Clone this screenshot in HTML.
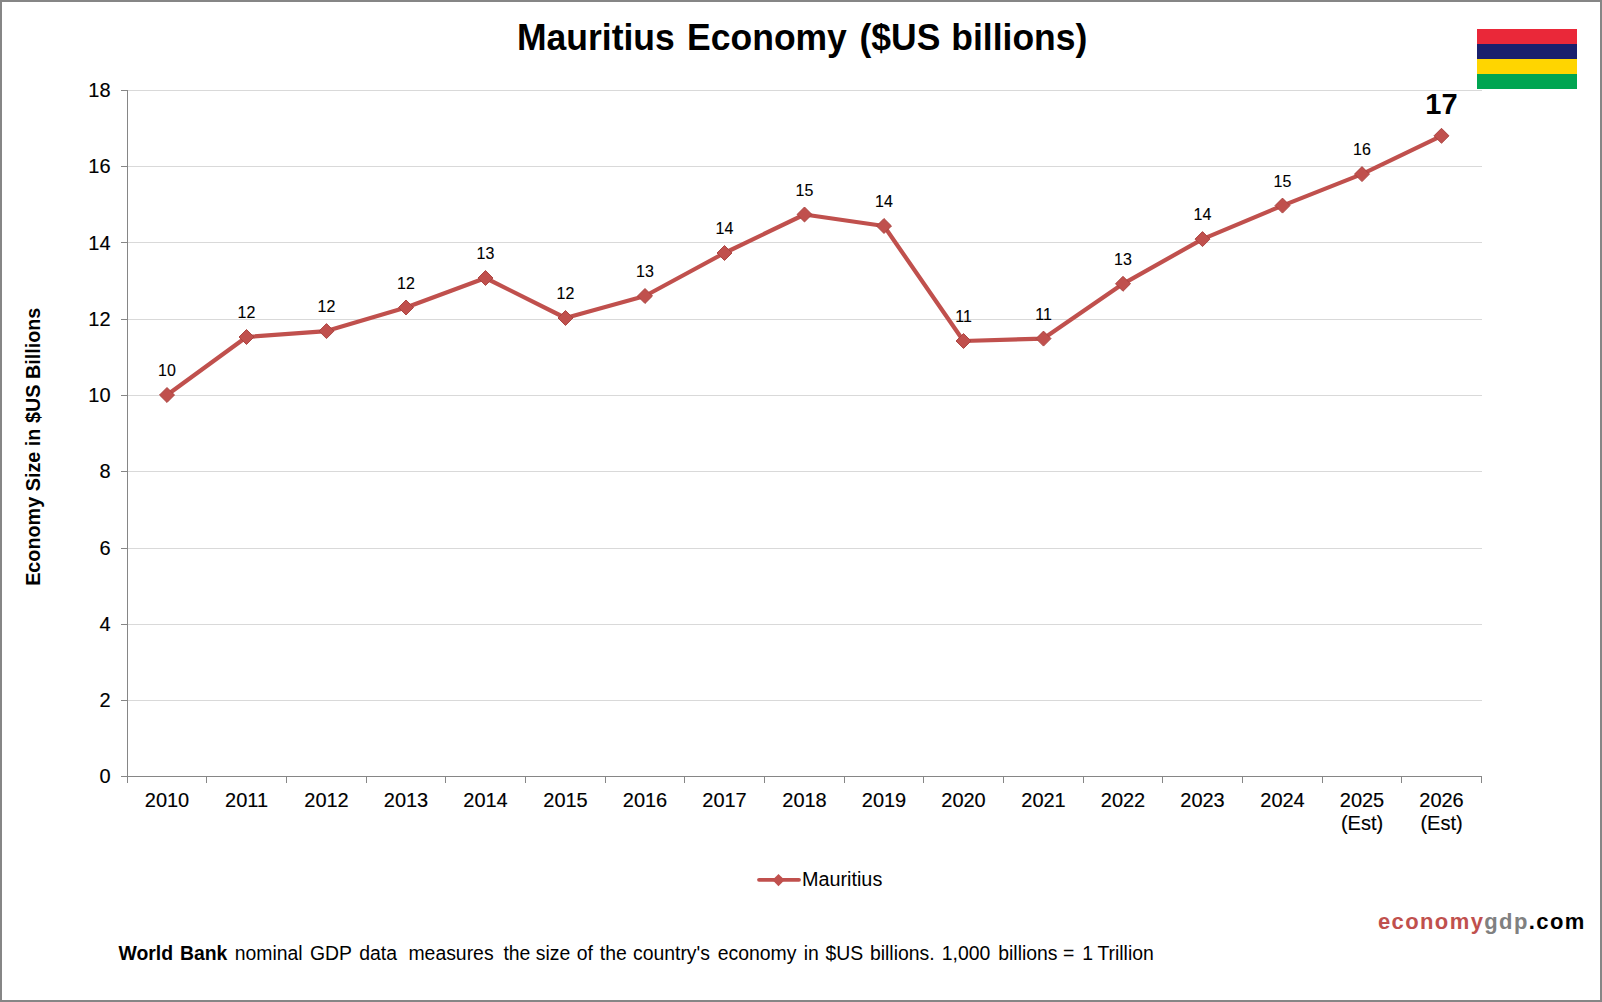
<!DOCTYPE html>
<html><head><meta charset="utf-8">
<style>
html,body{margin:0;padding:0;background:#fff;}
body{width:1602px;height:1002px;overflow:hidden;position:relative;}
svg{position:absolute;left:0;top:0;}
text{font-family:"Liberation Sans",sans-serif;fill:#000;}
.ax{font-size:20px;stroke:#000;stroke-width:0.15px;}
.dl{font-size:16px;stroke:#000;stroke-width:0.12px;}
.big{font-size:29px;font-weight:bold;}
.title{font-size:35.5px;font-weight:bold;}
.ytitle{font-size:19.8px;font-weight:bold;}
.leg{font-size:19.8px;}
.foot{font-size:19.4px;}
.wm{font-size:22px;font-weight:bold;letter-spacing:1.4px;}
</style></head>
<body>
<svg width="1602" height="1002" viewBox="0 0 1602 1002">
<rect x="1" y="1" width="1600" height="1000" fill="#fff" stroke="#868686" stroke-width="2"/>
<text transform="translate(517.02 50.20) scale(1 1.04)" class="title" font-weight="bold">Mauritius</text>
<text transform="translate(687.12 50.20) scale(1 1.04)" class="title" font-weight="bold">Economy</text>
<text transform="translate(859.55 50.20) scale(1 1.04)" class="title" font-weight="bold">($US</text>
<text transform="translate(951.33 50.20) scale(1 1.04)" class="title" font-weight="bold">billions)</text>

<g>
<rect x="1477" y="29" width="100" height="15" fill="#ea2839"/>
<rect x="1477" y="44" width="100" height="15" fill="#1a206d"/>
<rect x="1477" y="59" width="100" height="15" fill="#ffd500"/>
<rect x="1477" y="74" width="100" height="15" fill="#00a551"/>
</g>
<line x1="127" y1="90.5" x2="1482" y2="90.5" stroke="#d9d9d9" stroke-width="1"/>
<line x1="121" y1="90.5" x2="127" y2="90.5" stroke="#868686" stroke-width="1"/>
<text transform="translate(110.50 97.20) scale(1 1.04)" text-anchor="end" class="ax">18</text>
<line x1="127" y1="166.5" x2="1482" y2="166.5" stroke="#d9d9d9" stroke-width="1"/>
<line x1="121" y1="166.5" x2="127" y2="166.5" stroke="#868686" stroke-width="1"/>
<text transform="translate(110.50 173.45) scale(1 1.04)" text-anchor="end" class="ax">16</text>
<line x1="127" y1="242.5" x2="1482" y2="242.5" stroke="#d9d9d9" stroke-width="1"/>
<line x1="121" y1="242.5" x2="127" y2="242.5" stroke="#868686" stroke-width="1"/>
<text transform="translate(110.50 249.70) scale(1 1.04)" text-anchor="end" class="ax">14</text>
<line x1="127" y1="319.5" x2="1482" y2="319.5" stroke="#d9d9d9" stroke-width="1"/>
<line x1="121" y1="319.5" x2="127" y2="319.5" stroke="#868686" stroke-width="1"/>
<text transform="translate(110.50 325.95) scale(1 1.04)" text-anchor="end" class="ax">12</text>
<line x1="127" y1="395.5" x2="1482" y2="395.5" stroke="#d9d9d9" stroke-width="1"/>
<line x1="121" y1="395.5" x2="127" y2="395.5" stroke="#868686" stroke-width="1"/>
<text transform="translate(110.50 402.20) scale(1 1.04)" text-anchor="end" class="ax">10</text>
<line x1="127" y1="471.5" x2="1482" y2="471.5" stroke="#d9d9d9" stroke-width="1"/>
<line x1="121" y1="471.5" x2="127" y2="471.5" stroke="#868686" stroke-width="1"/>
<text transform="translate(110.50 478.45) scale(1 1.04)" text-anchor="end" class="ax">8</text>
<line x1="127" y1="548.5" x2="1482" y2="548.5" stroke="#d9d9d9" stroke-width="1"/>
<line x1="121" y1="548.5" x2="127" y2="548.5" stroke="#868686" stroke-width="1"/>
<text transform="translate(110.50 554.70) scale(1 1.04)" text-anchor="end" class="ax">6</text>
<line x1="127" y1="624.5" x2="1482" y2="624.5" stroke="#d9d9d9" stroke-width="1"/>
<line x1="121" y1="624.5" x2="127" y2="624.5" stroke="#868686" stroke-width="1"/>
<text transform="translate(110.50 630.95) scale(1 1.04)" text-anchor="end" class="ax">4</text>
<line x1="127" y1="700.5" x2="1482" y2="700.5" stroke="#d9d9d9" stroke-width="1"/>
<line x1="121" y1="700.5" x2="127" y2="700.5" stroke="#868686" stroke-width="1"/>
<text transform="translate(110.50 707.20) scale(1 1.04)" text-anchor="end" class="ax">2</text>
<line x1="121" y1="776.5" x2="127" y2="776.5" stroke="#868686" stroke-width="1"/>
<text transform="translate(110.50 783.45) scale(1 1.04)" text-anchor="end" class="ax">0</text>

<line x1="127.5" y1="90" x2="127.5" y2="783" stroke="#868686" stroke-width="1"/>
<line x1="121" y1="776.5" x2="1482" y2="776.5" stroke="#868686" stroke-width="1"/>
<line x1="127.5" y1="776" x2="127.5" y2="783" stroke="#868686" stroke-width="1"/>
<line x1="206.5" y1="776" x2="206.5" y2="783" stroke="#868686" stroke-width="1"/>
<line x1="286.5" y1="776" x2="286.5" y2="783" stroke="#868686" stroke-width="1"/>
<line x1="366.5" y1="776" x2="366.5" y2="783" stroke="#868686" stroke-width="1"/>
<line x1="445.5" y1="776" x2="445.5" y2="783" stroke="#868686" stroke-width="1"/>
<line x1="525.5" y1="776" x2="525.5" y2="783" stroke="#868686" stroke-width="1"/>
<line x1="605.5" y1="776" x2="605.5" y2="783" stroke="#868686" stroke-width="1"/>
<line x1="684.5" y1="776" x2="684.5" y2="783" stroke="#868686" stroke-width="1"/>
<line x1="764.5" y1="776" x2="764.5" y2="783" stroke="#868686" stroke-width="1"/>
<line x1="844.5" y1="776" x2="844.5" y2="783" stroke="#868686" stroke-width="1"/>
<line x1="923.5" y1="776" x2="923.5" y2="783" stroke="#868686" stroke-width="1"/>
<line x1="1003.5" y1="776" x2="1003.5" y2="783" stroke="#868686" stroke-width="1"/>
<line x1="1083.5" y1="776" x2="1083.5" y2="783" stroke="#868686" stroke-width="1"/>
<line x1="1162.5" y1="776" x2="1162.5" y2="783" stroke="#868686" stroke-width="1"/>
<line x1="1242.5" y1="776" x2="1242.5" y2="783" stroke="#868686" stroke-width="1"/>
<line x1="1322.5" y1="776" x2="1322.5" y2="783" stroke="#868686" stroke-width="1"/>
<line x1="1401.5" y1="776" x2="1401.5" y2="783" stroke="#868686" stroke-width="1"/>
<line x1="1481.5" y1="776" x2="1481.5" y2="783" stroke="#868686" stroke-width="1"/>

<text transform="translate(167.00 806.80) scale(1 1.04)" text-anchor="middle" class="ax">2010</text>
<text transform="translate(246.50 806.80) scale(1 1.04)" text-anchor="middle" class="ax">2011</text>
<text transform="translate(326.50 806.80) scale(1 1.04)" text-anchor="middle" class="ax">2012</text>
<text transform="translate(406.00 806.80) scale(1 1.04)" text-anchor="middle" class="ax">2013</text>
<text transform="translate(485.50 806.80) scale(1 1.04)" text-anchor="middle" class="ax">2014</text>
<text transform="translate(565.50 806.80) scale(1 1.04)" text-anchor="middle" class="ax">2015</text>
<text transform="translate(645.00 806.80) scale(1 1.04)" text-anchor="middle" class="ax">2016</text>
<text transform="translate(724.50 806.80) scale(1 1.04)" text-anchor="middle" class="ax">2017</text>
<text transform="translate(804.50 806.80) scale(1 1.04)" text-anchor="middle" class="ax">2018</text>
<text transform="translate(884.00 806.80) scale(1 1.04)" text-anchor="middle" class="ax">2019</text>
<text transform="translate(963.50 806.80) scale(1 1.04)" text-anchor="middle" class="ax">2020</text>
<text transform="translate(1043.50 806.80) scale(1 1.04)" text-anchor="middle" class="ax">2021</text>
<text transform="translate(1123.00 806.80) scale(1 1.04)" text-anchor="middle" class="ax">2022</text>
<text transform="translate(1202.50 806.80) scale(1 1.04)" text-anchor="middle" class="ax">2023</text>
<text transform="translate(1282.50 806.80) scale(1 1.04)" text-anchor="middle" class="ax">2024</text>
<text transform="translate(1362.00 806.80) scale(1 1.04)" text-anchor="middle" class="ax">2025</text>
<text transform="translate(1362.00 830.30) scale(1 1.04)" text-anchor="middle" class="ax">(Est)</text>
<text transform="translate(1441.50 806.80) scale(1 1.04)" text-anchor="middle" class="ax">2026</text>
<text transform="translate(1441.50 830.30) scale(1 1.04)" text-anchor="middle" class="ax">(Est)</text>

<polyline points="167.0,395.0 246.5,337.0 326.5,331.1 406.0,307.5 485.5,278.0 565.5,318.0 645.0,296.0 724.5,253.0 804.5,214.5 884.0,226.0 963.5,341.0 1043.5,338.6 1123.0,283.8 1202.5,239.1 1282.5,205.6 1362.0,174.1 1441.5,135.8" fill="none" stroke="#c0504d" stroke-width="4.2" stroke-linejoin="round" stroke-linecap="round"/>
<rect x="161.70" y="389.70" width="10.6" height="10.6" transform="rotate(45 167.00 395.00)" fill="#c0504d" stroke="#a9423f" stroke-width="0.9"/>
<rect x="241.20" y="331.70" width="10.6" height="10.6" transform="rotate(45 246.50 337.00)" fill="#c0504d" stroke="#a9423f" stroke-width="0.9"/>
<rect x="321.20" y="325.80" width="10.6" height="10.6" transform="rotate(45 326.50 331.10)" fill="#c0504d" stroke="#a9423f" stroke-width="0.9"/>
<rect x="400.70" y="302.20" width="10.6" height="10.6" transform="rotate(45 406.00 307.50)" fill="#c0504d" stroke="#a9423f" stroke-width="0.9"/>
<rect x="480.20" y="272.70" width="10.6" height="10.6" transform="rotate(45 485.50 278.00)" fill="#c0504d" stroke="#a9423f" stroke-width="0.9"/>
<rect x="560.20" y="312.70" width="10.6" height="10.6" transform="rotate(45 565.50 318.00)" fill="#c0504d" stroke="#a9423f" stroke-width="0.9"/>
<rect x="639.70" y="290.70" width="10.6" height="10.6" transform="rotate(45 645.00 296.00)" fill="#c0504d" stroke="#a9423f" stroke-width="0.9"/>
<rect x="719.20" y="247.70" width="10.6" height="10.6" transform="rotate(45 724.50 253.00)" fill="#c0504d" stroke="#a9423f" stroke-width="0.9"/>
<rect x="799.20" y="209.20" width="10.6" height="10.6" transform="rotate(45 804.50 214.50)" fill="#c0504d" stroke="#a9423f" stroke-width="0.9"/>
<rect x="878.70" y="220.70" width="10.6" height="10.6" transform="rotate(45 884.00 226.00)" fill="#c0504d" stroke="#a9423f" stroke-width="0.9"/>
<rect x="958.20" y="335.70" width="10.6" height="10.6" transform="rotate(45 963.50 341.00)" fill="#c0504d" stroke="#a9423f" stroke-width="0.9"/>
<rect x="1038.20" y="333.30" width="10.6" height="10.6" transform="rotate(45 1043.50 338.60)" fill="#c0504d" stroke="#a9423f" stroke-width="0.9"/>
<rect x="1117.70" y="278.50" width="10.6" height="10.6" transform="rotate(45 1123.00 283.80)" fill="#c0504d" stroke="#a9423f" stroke-width="0.9"/>
<rect x="1197.20" y="233.80" width="10.6" height="10.6" transform="rotate(45 1202.50 239.10)" fill="#c0504d" stroke="#a9423f" stroke-width="0.9"/>
<rect x="1277.20" y="200.30" width="10.6" height="10.6" transform="rotate(45 1282.50 205.60)" fill="#c0504d" stroke="#a9423f" stroke-width="0.9"/>
<rect x="1356.70" y="168.80" width="10.6" height="10.6" transform="rotate(45 1362.00 174.10)" fill="#c0504d" stroke="#a9423f" stroke-width="0.9"/>
<rect x="1436.20" y="130.50" width="10.6" height="10.6" transform="rotate(45 1441.50 135.80)" fill="#c0504d" stroke="#a9423f" stroke-width="0.9"/>

<text transform="translate(167.00 376.30) scale(1 1.04)" text-anchor="middle" class="dl">10</text>
<text transform="translate(246.50 318.30) scale(1 1.04)" text-anchor="middle" class="dl">12</text>
<text transform="translate(326.50 312.40) scale(1 1.04)" text-anchor="middle" class="dl">12</text>
<text transform="translate(406.00 288.80) scale(1 1.04)" text-anchor="middle" class="dl">12</text>
<text transform="translate(485.50 259.30) scale(1 1.04)" text-anchor="middle" class="dl">13</text>
<text transform="translate(565.50 299.30) scale(1 1.04)" text-anchor="middle" class="dl">12</text>
<text transform="translate(645.00 277.30) scale(1 1.04)" text-anchor="middle" class="dl">13</text>
<text transform="translate(724.50 234.30) scale(1 1.04)" text-anchor="middle" class="dl">14</text>
<text transform="translate(804.50 195.80) scale(1 1.04)" text-anchor="middle" class="dl">15</text>
<text transform="translate(884.00 207.30) scale(1 1.04)" text-anchor="middle" class="dl">14</text>
<text transform="translate(963.50 322.30) scale(1 1.04)" text-anchor="middle" class="dl">11</text>
<text transform="translate(1043.50 319.90) scale(1 1.04)" text-anchor="middle" class="dl">11</text>
<text transform="translate(1123.00 265.10) scale(1 1.04)" text-anchor="middle" class="dl">13</text>
<text transform="translate(1202.50 220.40) scale(1 1.04)" text-anchor="middle" class="dl">14</text>
<text transform="translate(1282.50 186.90) scale(1 1.04)" text-anchor="middle" class="dl">15</text>
<text transform="translate(1362.00 155.40) scale(1 1.04)" text-anchor="middle" class="dl">16</text>
<text transform="translate(1441.50 114.00) scale(1 1.04)" text-anchor="middle" class="big">17</text>

<text transform="translate(40 446.75) rotate(-90) scale(1 1.04)" text-anchor="middle" class="ytitle">Economy Size in $US Billions</text>
<line x1="759" y1="879.8" x2="799" y2="879.8" stroke="#c0504d" stroke-width="3.8" stroke-linecap="round"/>
<rect x="774.2" y="875.8" width="8.6" height="8.6" transform="rotate(45 778.5 880.1)" fill="#c0504d"/>
<text transform="translate(802.00 886.00) scale(1 1.04)" class="leg">Mauritius</text>

<text transform="translate(1377.90 928.50) scale(1 1.03)" class="wm"><tspan fill="#c0504d">economy</tspan><tspan fill="#808080">gdp</tspan><tspan fill="#000">.com</tspan></text>

<text transform="translate(118.50 959.80) scale(1 1.04)" class="foot" font-weight="bold">World</text>
<text transform="translate(179.95 959.80) scale(1 1.04)" class="foot" font-weight="bold">Bank</text>
<text transform="translate(234.75 959.80) scale(1 1.04)" class="foot">nominal</text>
<text transform="translate(310.00 959.80) scale(1 1.04)" class="foot">GDP</text>
<text transform="translate(359.25 959.80) scale(1 1.04)" class="foot">data</text>
<text transform="translate(408.45 959.80) scale(1 1.04)" class="foot">measures</text>
<text transform="translate(503.45 959.80) scale(1 1.04)" class="foot">the</text>
<text transform="translate(535.80 959.80) scale(1 1.04)" class="foot">size</text>
<text transform="translate(576.75 959.80) scale(1 1.04)" class="foot">of</text>
<text transform="translate(599.75 959.80) scale(1 1.04)" class="foot">the</text>
<text transform="translate(632.95 959.80) scale(1 1.04)" class="foot">country's</text>
<text transform="translate(717.75 959.80) scale(1 1.04)" class="foot">economy</text>
<text transform="translate(803.75 959.80) scale(1 1.04)" class="foot">in</text>
<text transform="translate(825.45 959.80) scale(1 1.04)" class="foot">$US</text>
<text transform="translate(869.95 959.80) scale(1 1.04)" class="foot">billions.</text>
<text transform="translate(941.80 959.80) scale(1 1.04)" class="foot">1,000</text>
<text transform="translate(998.25 959.80) scale(1 1.04)" class="foot">billions</text>
<text transform="translate(1063.12 959.80) scale(1 1.04)" class="foot">=</text>
<text transform="translate(1082.30 959.80) scale(1 1.04)" class="foot">1</text>
<text transform="translate(1097.42 959.80) scale(1 1.04)" class="foot">Trillion</text>

</svg>
</body></html>
